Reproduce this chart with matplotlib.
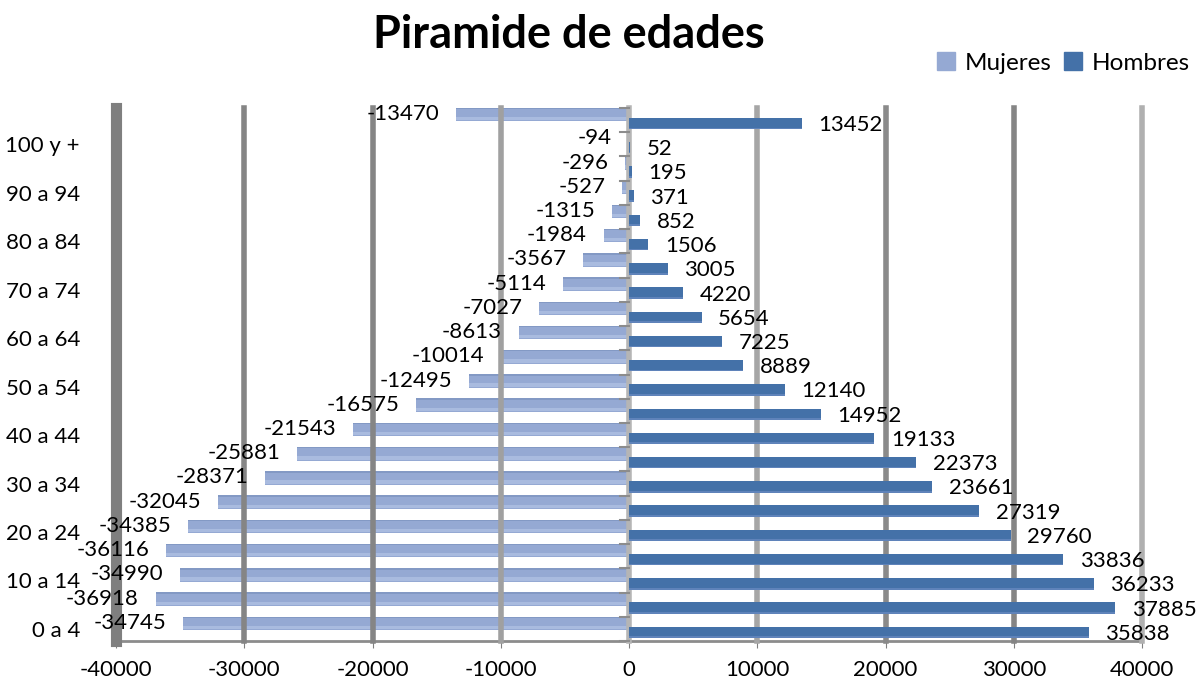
import matplotlib
matplotlib.use("Agg")
import matplotlib.pyplot as plt
import numpy as np

plt.rcParams['font.family'] = ['Lato', 'DejaVu Sans']

# age groups, bottom to top (last one has no label on the axis)
edades = ['0 a 4', '5 a 9', '10 a 14', '15 a 19', '20 a 24', '25 a 29', '30 a 34',
          '35 a 39', '40 a 44', '45 a 49', '50 a 54', '55 a 59', '60 a 64', '65 a 69',
          '70 a 74', '75 a 79', '80 a 84', '85 a 89', '90 a 94', '95 a 99', '100 y +',
          'No especificado']
mujeres = [-34745, -36918, -34990, -36116, -34385, -32045, -28371, -25881, -21543,
           -16575, -12495, -10014, -8613, -7027, -5114, -3567, -1984, -1315, -527,
           -296, -94, -13470]
hombres = [35838, 37885, 36233, 33836, 29760, 27319, 23661, 22373, 19133, 14952,
           12140, 8889, 7225, 5654, 4220, 3005, 1506, 852, 371, 195, 52, 13452]
xticks = [-40000, -30000, -20000, -10000, 0, 10000, 20000, 30000, 40000]

c_muj = '#95A9D3'
c_hom = '#4471A8'

fig = plt.figure(figsize=(12.01, 6.94), dpi=100)
ax = fig.add_axes([116 / 1201, 1 - 641 / 694, (1142 - 116) / 1201, (641 - 108) / 694])

y = np.arange(len(edades))

# grid lines (3d wall look)
grid_col = {-40000: ('#7f7f7f', 8), -30000: ('#858585', 4), -20000: ('#858585', 4),
            -10000: ('#a0a0a0', 4), 0: ('#b5b5b5', 4), 10000: ('#a6a6a6', 4),
            20000: ('#8a8a8a', 4), 30000: ('#858585', 4), 40000: ('#b0b0b0', 4)}
for t in xticks:
    col, lw = grid_col[t]
    ax.axvline(t, ymin=0, ymax=1.0, color=col, lw=lw, zorder=3, clip_on=False)

# bars
ax.barh(y + 0.23, mujeres, height=0.56, color=c_muj, zorder=2)
ax.barh(y + 0.06, mujeres, height=0.14, color='#A9BBDF', zorder=2)
ax.barh(y + 0.48, mujeres, height=0.06, color='#8399C4', zorder=2)
ax.barh(y - 0.14, hombres, height=0.47, color=c_hom, zorder=4)
ax.barh(y - 0.34, hombres, height=0.07, color='#5F83BA', zorder=4)

# value labels
for yi, v in zip(y, mujeres):
    ax.annotate(str(v), (v, yi + 0.25), xytext=(-12, 0), textcoords='offset points',
                ha='right', va='center', fontsize=16, zorder=6)
for yi, v in zip(y, hombres):
    ax.annotate(str(v), (v, yi - 0.2), xytext=(12, 0), textcoords='offset points',
                ha='left', va='center', fontsize=16, zorder=6)

ax.set_xlim(-40000, 40000)
ax.set_ylim(-0.5, len(edades) - 0.5)
ax.set_xticks(xticks)
ax.set_xticklabels([str(t) for t in xticks], fontsize=16)
ax.set_yticks(y[::2])
ax.set_yticklabels(edades[::2][:11], fontsize=16)
ax.tick_params(axis='y', length=0, pad=26)
ax.tick_params(axis='x', length=5, color='#808080', pad=9)

for s in ['top', 'right', 'left']:
    ax.spines[s].set_visible(False)
ax.spines['bottom'].set_color('#8c8c8c')
ax.spines['bottom'].set_linewidth(2)

# small category ticks on the zero line
for b in np.arange(len(edades) + 1) - 0.5:
    ax.plot([-700, 0], [b, b], color='#8c8c8c', lw=1.5, zorder=5, clip_on=False)

fig.text(569 / 1201, 1 - 35 / 694, 'Piramide de edades', ha='center', va='center',
         fontsize=32.5, fontweight='bold')

h1 = plt.Rectangle((0, 0), 1, 1, color=c_muj)
h2 = plt.Rectangle((0, 0), 1, 1, color=c_hom)
fig.legend([h1, h2], ['Mujeres', 'Hombres'], loc='center right',
           bbox_to_anchor=(1212 / 1201, 1 - 63 / 694), ncol=2, frameon=False,
           fontsize=17.5, handlelength=0.75, handleheight=0.75, handletextpad=0.4,
           columnspacing=0.5)

fig.savefig('out.png', dpi=100)
